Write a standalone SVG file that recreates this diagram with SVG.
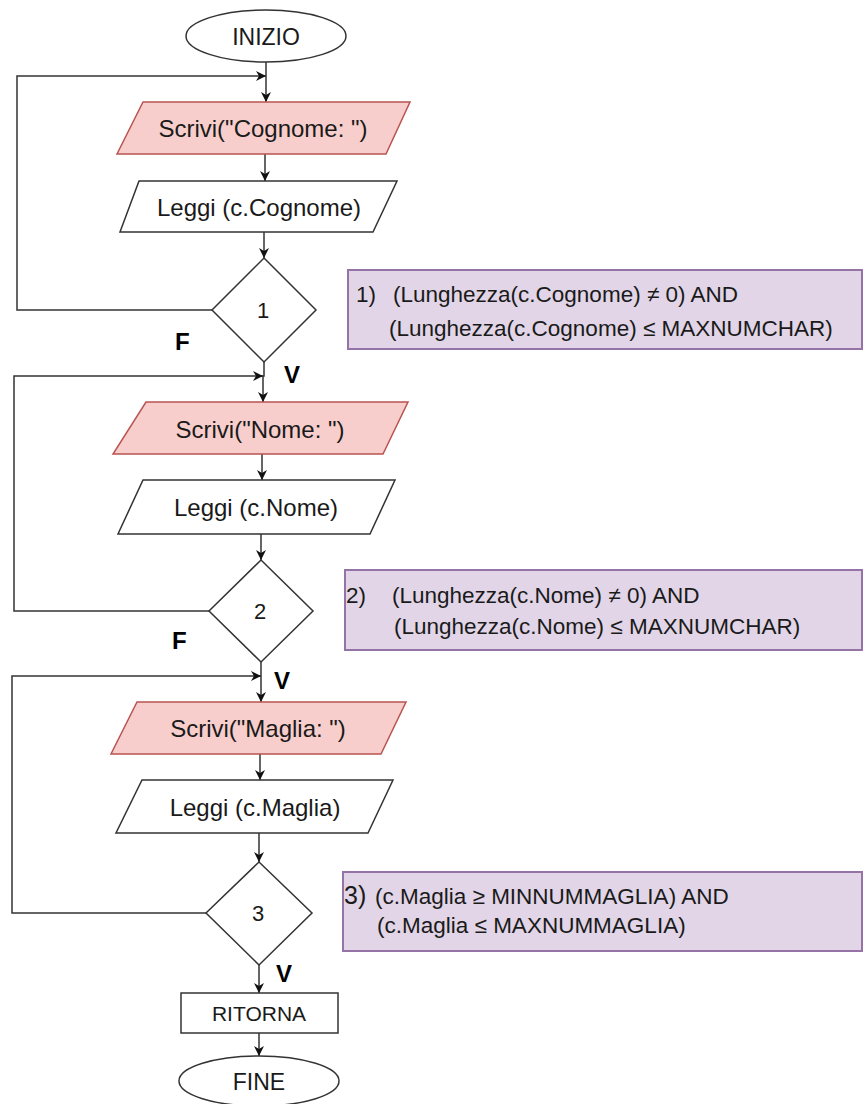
<svg xmlns="http://www.w3.org/2000/svg" width="864" height="1104" viewBox="0 0 864 1104">
<defs>
<style>
.t{font-family:"Liberation Sans",Arial,sans-serif;font-size:24px;fill:#1a1a1a;text-anchor:middle;dominant-baseline:central}
.n{font-family:"Liberation Sans",Arial,sans-serif;font-size:22.5px;fill:#1a1a1a;dominant-baseline:central}
.b{font-family:"Liberation Sans",Arial,sans-serif;font-size:24px;font-weight:bold;fill:#000;dominant-baseline:central}
.w{fill:#fff;stroke:#333;stroke-width:1.5}
.r{fill:#f8cecc;stroke:#b85450;stroke-width:1.5}
.p{fill:#e1d5e7;stroke:#9673a6;stroke-width:2}
.c{fill:none;stroke:#333;stroke-width:1.5}
</style>
<marker id="a" viewBox="0 0 10 10" refX="10" refY="5" markerWidth="10" markerHeight="10" markerUnits="userSpaceOnUse" orient="auto">
<path d="M0,0 L10,5 L0,10 L3,5 z" fill="#111"/>
</marker>
</defs>
<g id="connectors">
<path class="c" d="M266,62 V102" marker-end="url(#a)"/>
<path class="c" d="M212,310 H17 V76 H266" marker-end="url(#a)"/>
<path class="c" d="M265,154 V181" marker-end="url(#a)"/>
<path class="c" d="M264,232 V258" marker-end="url(#a)"/>
<path class="c" d="M264,362 V376 H263 V402" marker-end="url(#a)"/>
<path class="c" d="M209,611 H14 V376 H263" marker-end="url(#a)"/>
<path class="c" d="M262,454 V480" marker-end="url(#a)"/>
<path class="c" d="M261,534 V560" marker-end="url(#a)"/>
<path class="c" d="M261,662 V702" marker-end="url(#a)"/>
<path class="c" d="M206,913 H12 V676 H261" marker-end="url(#a)"/>
<path class="c" d="M260,754 V780" marker-end="url(#a)"/>
<path class="c" d="M259,833 V862" marker-end="url(#a)"/>
<path class="c" d="M259,965 V993" marker-end="url(#a)"/>
<path class="c" d="M259,1033 V1056" marker-end="url(#a)"/>
<text class="b" x="175" y="341">F</text>
<text class="b" x="284" y="374">V</text>
<text class="b" x="172" y="640">F</text>
<text class="b" x="274" y="680">V</text>
<text class="b" x="276" y="973">V</text>
</g>
<g id="inizio">
<ellipse class="w" cx="266" cy="36" rx="80" ry="26"/>
<text class="t" x="266" y="37" style="font-size:23px">INIZIO</text>
</g>
<g id="scrivi-cognome">
<polygon class="r" points="143,102 410,102 386,154 117,154"/>
<text class="t" x="263" y="128">Scrivi("Cognome: ")</text>
</g>
<g id="leggi-cognome">
<polygon class="w" points="139,181 397,181 373,232 120,232"/>
<text class="t" x="259" y="207">Leggi (c.Cognome)</text>
</g>
<g id="cond1">
<polygon class="w" points="264,258 316,310 264,362 212,310"/>
<text class="t" x="263" y="310" style="font-size:22px">1</text>
</g>
<g id="note1">
<rect class="p" x="348" y="270" width="514" height="79"/>
<text class="n" x="356" y="294">1)</text>
<text class="n" x="393" y="294">(Lunghezza(c.Cognome) ≠ 0) AND</text>
<text class="n" x="389" y="328">(Lunghezza(c.Cognome) ≤ MAXNUMCHAR)</text>
</g>
<g id="scrivi-nome">
<polygon class="r" points="146,402 408,402 383,454 113,454"/>
<text class="t" x="260" y="429">Scrivi("Nome: ")</text>
</g>
<g id="leggi-nome">
<polygon class="w" points="143,480 395,480 370,534 118,534"/>
<text class="t" x="256" y="507">Leggi (c.Nome)</text>
</g>
<g id="cond2">
<polygon class="w" points="261,560 313,611 261,662 209,611"/>
<text class="t" x="260" y="611" style="font-size:22px">2</text>
</g>
<g id="note2">
<rect class="p" x="345" y="570" width="517" height="80"/>
<text class="n" x="346" y="595">2)</text>
<text class="n" x="392" y="595">(Lunghezza(c.Nome) ≠ 0) AND</text>
<text class="n" x="394" y="626">(Lunghezza(c.Nome) ≤ MAXNUMCHAR)</text>
</g>
<g id="scrivi-maglia">
<polygon class="r" points="137,702 406,702 381,754 111,754"/>
<text class="t" x="258" y="728">Scrivi("Maglia: ")</text>
</g>
<g id="leggi-maglia">
<polygon class="w" points="142,780 393,780 368,833 116,833"/>
<text class="t" x="255" y="807">Leggi (c.Maglia)</text>
</g>
<g id="cond3">
<polygon class="w" points="259,862 312,913 259,965 206,913"/>
<text class="t" x="258" y="913" style="font-size:22px">3</text>
</g>
<g id="note3">
<rect class="p" x="343" y="872" width="519" height="79"/>
<text class="n" x="344" y="895" style="font-size:25px">3)</text>
<text class="n" x="375" y="896">(c.Maglia ≥ MINNUMMAGLIA) AND</text>
<text class="n" x="377" y="925">(c.Maglia ≤ MAXNUMMAGLIA)</text>
</g>
<g id="ritorna">
<rect class="w" x="181" y="993" width="157" height="40"/>
<text class="t" x="259" y="1013" style="font-size:21px">RITORNA</text>
</g>
<g id="fine">
<ellipse class="w" cx="259" cy="1081" rx="80" ry="25"/>
<text class="t" x="259" y="1082" style="font-size:23px">FINE</text>
</g>
</svg>
